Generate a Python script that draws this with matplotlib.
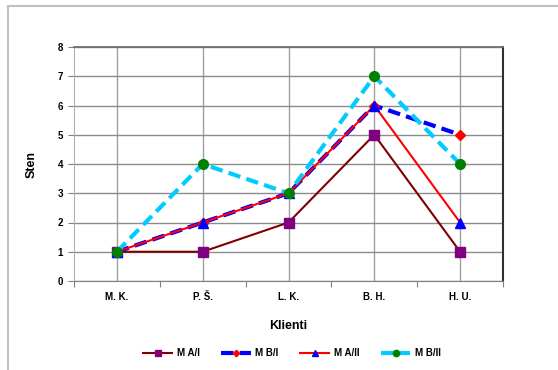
import matplotlib
matplotlib.use("Agg")
import matplotlib.pyplot as plt
from matplotlib.lines import Line2D

plt.rcParams['font.family'] = ['Liberation Sans', 'DejaVu Sans']

categories = ["M. K.", "P. Š.", "L. K.", "B. H.", "H. U."]
ma1 = [1, 1, 2, 5, 1]
mb1 = [1, 2, 3, 6, 5]
ma2 = [1, 2, 3, 6, 2]
mb2 = [1, 4, 3, 7, 4]
series_names = ["M A/I", "M B/I", "M A/II", "M B/II"]
y_ticks = list(range(0, 9))

W, H = 558, 370
fig = plt.figure(figsize=(W / 100, H / 100), dpi=100)
fig.patch.set_facecolor("white")

# outer chart frame
fig.add_artist(Line2D([8 / W, 1.0], [1 - 6 / H, 1 - 6 / H], color="#c0c0c0", lw=1.5))
fig.add_artist(Line2D([8 / W, 8 / W], [0, 1 - 6 / H], color="#c0c0c0", lw=1.5))

left, right, top, bottom = 74, 503, 47, 281
ax = fig.add_axes([left / W, 1 - bottom / H, (right - left) / W, (bottom - top) / H])

x = list(range(len(categories)))
ax.set_xlim(-0.5, len(categories) - 0.5)
ax.set_ylim(0, 8)

ax.set_yticks(y_ticks)
ax.set_yticklabels([str(t) for t in y_ticks], fontsize=7, fontweight="bold")
ax.set_xticks([i - 0.5 for i in range(len(categories) + 1)])
ax.set_xticklabels([""] * (len(categories) + 1))
ax.set_xticks(x, minor=True)
ax.set_xticklabels(categories, minor=True, fontsize=7, fontweight="bold")
ax.tick_params(axis="x", which="minor", length=0, pad=8)
ax.tick_params(axis="x", which="major", length=4, color="#808080")
ax.tick_params(axis="y", length=4, color="#808080", pad=4)

ax.grid(axis="y", color="#8c8c8c", lw=1.0)
for xi in x:
    ax.axvline(xi, color="#a0a0a0", lw=1.0, zorder=0.5)
ax.set_axisbelow(True)

ax.spines["top"].set_color("#707070")
ax.spines["top"].set_linewidth(1.3)
ax.spines["top"].set_zorder(5)
ax.spines["right"].set_color("#303030")
ax.spines["right"].set_linewidth(1.5)
ax.spines["left"].set_color("#b0b0b0")
ax.spines["bottom"].set_color("#808080")

ax.plot(x, ma1, color="#800000", lw=1.5, marker="s", ms=7, mfc="#800080", mec="#800080", label=series_names[0], zorder=3)
ax.plot(x, mb1, color="#0000ff", lw=3, ls=(0, (3, 1.5)), marker="D", ms=5, mfc="#ff0000", mec="#ff0000", label=series_names[1], zorder=3)
ax.plot(x, ma2, color="#ff0000", lw=1.5, marker="^", ms=7, mfc="#0000ff", mec="#0000ff", label=series_names[2], zorder=3)
ax.plot(x, mb2, color="#00ccff", lw=3, ls=(0, (3, 1.5)), marker="o", ms=7, mfc="#008000", mec="#008000", label=series_names[3], zorder=3)

ax.set_ylabel("Sten", fontsize=9, fontweight="bold", labelpad=14)
ax.set_xlabel("Klienti", fontsize=9, fontweight="bold", labelpad=13)

fig.legend(loc="center", bbox_to_anchor=(292 / W, 1 - 353 / H), ncol=4, frameon=False,
           prop={"size": 7, "weight": "bold"}, handlelength=3, columnspacing=2.2, handletextpad=0.5,
           markerscale=0.65)

fig.savefig("out.png", dpi=100, facecolor="white")
